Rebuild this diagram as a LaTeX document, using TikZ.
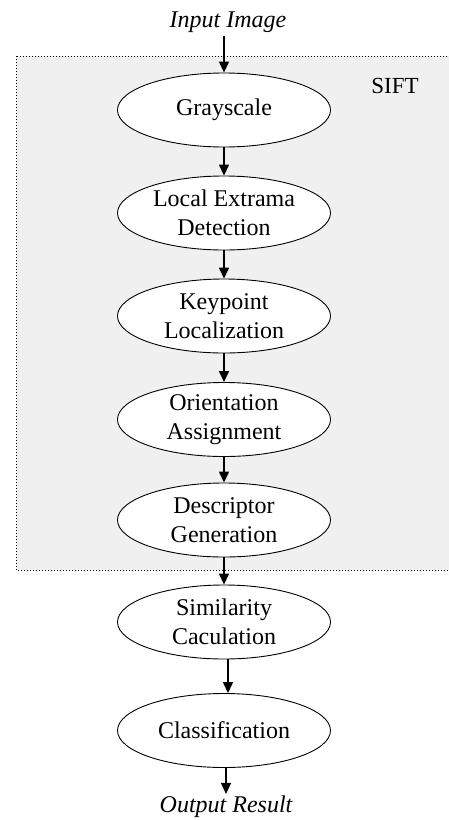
\documentclass[tikz,border=0pt]{standalone}
\usepackage{fontspec}
\setmainfont{Liberation Serif}
\usetikzlibrary{shapes.geometric,arrows.meta}
\begin{document}
\begin{tikzpicture}[x=1pt,y=-1pt,
  proc/.style={draw=black,line width=0.9pt,fill=white,ellipse,minimum width=213pt,minimum height=74pt,inner sep=0pt,align=center,font=\fontsize{24}{29}\selectfont},
  lbl/.style={font=\fontsize{24}{29}\selectfont\itshape,inner sep=0pt},
  arr/.style={-{Triangle[length=11pt,width=10pt]},line width=1.4pt}]
\useasboundingbox (0,0) rectangle (449,820);
\begin{scope}
\clip (0,0) rectangle (449,820);
\draw[dotted,line width=1pt,fill={rgb,255:red,240;green,240;blue,240}] (16,56) rectangle (460,570);
\end{scope}
\node[font=\fontsize{23}{28}\selectfont,inner sep=0pt] (sift) at (395,86) {SIFT};
\node[lbl] (in) at (228,22) {Input Image};
\node[proc] (g) at (224,110) {Grayscale};
\node[proc] (l) at (224,213) {Local Extrama\\Detection};
\node[proc] (k) at (224,316) {Keypoint\\Localization};
\node[proc] (o) at (224,419.5) {Orientation\\Assignment};
\node[proc] (d) at (224,520) {Descriptor\\Generation};
\node[proc] (s) at (224,622) {Similarity\\Caculation};
\node[proc] (c) at (224,730.5) {Classification};
\node[lbl] (out) at (226,807) {Output Result};
\coordinate (outtop) at ([xshift=2pt,yshift=2pt]c.south |- out.north);
\draw[arr] (in.south -| g.north) ++(0,3) -- (g.north);
\draw[arr] (g) -- (l);
\draw[arr] (l) -- (k);
\draw[arr] (k) -- (o);
\draw[arr] (o) -- (d);
\draw[arr] (d) -- (s);
\draw[arr] ([xshift=4pt]s.south) -- ([xshift=4pt]c.north);
\draw[arr] ([xshift=2pt]c.south) -- (outtop);
\end{tikzpicture}
\end{document}
